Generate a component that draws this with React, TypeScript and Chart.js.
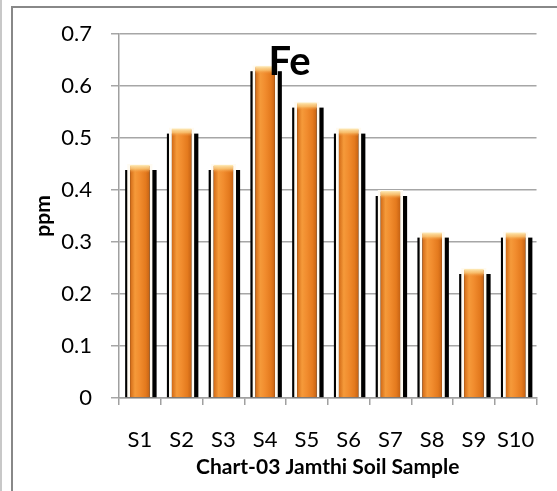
import React, { useEffect, useRef } from 'react';
import { Chart, registerables } from 'chart.js';

Chart.register(...registerables);

const CATEGORIES = ['S1', 'S2', 'S3', 'S4', 'S5', 'S6', 'S7', 'S8', 'S9', 'S10'];
const FE_VALUES = [0.45, 0.52, 0.45, 0.64, 0.57, 0.52, 0.4, 0.32, 0.25, 0.32];
const Y_TICK_LABELS = ['0', '0.1', '0.2', '0.3', '0.4', '0.5', '0.6', '0.7'];
const CHART_TITLE = 'Fe';
const X_TITLE = 'Chart-03 Jamthi Soil Sample';
const Y_TITLE = 'ppm';

const BAR_FRAC = 0.61;
const FONT = 'Lato';

const shadowPlugin = {
  id: 'barShadow',
  beforeDatasetsDraw(chart: any) {
    const ctx = chart.ctx;
    const meta = chart.getDatasetMeta(0);
    ctx.save();
    ctx.fillStyle = '#000000';
    meta.data.forEach((el: any) => {
      const { x, y, base, width } = el.getProps(['x', 'y', 'base', 'width'], true);
      ctx.fillRect(x - width / 2 - 2, y + 6, width + 6, base - y - 6);
    });
    ctx.restore();
  },
  afterDatasetsDraw(chart: any) {
    const ctx = chart.ctx;
    const meta = chart.getDatasetMeta(0);
    ctx.save();
    meta.data.forEach((el: any) => {
      const { x, y, width } = el.getProps(['x', 'y', 'width'], true);
      const inner = width / 2 - 3;
      const g = ctx.createLinearGradient(0, y + 1, 0, y + 9);
      g.addColorStop(0, 'rgba(253,232,180,1)');
      g.addColorStop(0.5, 'rgba(250,200,120,0.8)');
      g.addColorStop(1, 'rgba(240,140,50,0)');
      ctx.fillStyle = g;
      ctx.fillRect(x - inner, y + 1, inner * 2, 8);
    });
    const area = chart.chartArea;
    ctx.fillStyle = '#000000';
    ctx.font = `bold 40px ${FONT}`;
    ctx.textAlign = 'center';
    ctx.textBaseline = 'alphabetic';
    ctx.fillText(CHART_TITLE, area.left + 170.5, area.top + 41);
    ctx.restore();
  },
};

export default function App() {
  const canvasRef = useRef<HTMLCanvasElement | null>(null);

  useEffect(() => {
    if (!canvasRef.current) return;
    const chart = new Chart(canvasRef.current, {
      type: 'bar',
      data: {
        labels: CATEGORIES,
        datasets: [
          {
            label: CHART_TITLE,
            data: FE_VALUES,
            backgroundColor: (c: any) => {
              const ch = c.chart;
              const xs = ch.scales && ch.scales.x;
              if (!xs || c.dataIndex === undefined) return '#EE8628';
              const cx = xs.getPixelForValue(c.dataIndex);
              const half = ((xs.width / CATEGORIES.length) * BAR_FRAC) / 2 - 3;
              if (!isFinite(cx) || !isFinite(half) || half <= 0) return '#EE8628';
              const g = ch.ctx.createLinearGradient(cx - half, 0, cx + half, 0);
              g.addColorStop(0, '#D26A16');
              g.addColorStop(0.25, '#F59A3A');
              g.addColorStop(0.5, '#F18C2E');
              g.addColorStop(0.8, '#E47A1E');
              g.addColorStop(1, '#C66314');
              return g;
            },
            borderColor: '#FFFBF2',
            borderWidth: { top: 2, left: 3, right: 3, bottom: 0 },
            borderSkipped: false,
            barPercentage: BAR_FRAC,
            categoryPercentage: 1,
          },
        ],
      },
      options: {
        responsive: false,
        animation: false,
        devicePixelRatio: 1,
        layout: { padding: { top: 34, right: 12.5, bottom: 0, left: 0 } },
        plugins: {
          legend: { display: false },
          tooltip: { enabled: false },
          title: { display: false },
        },
        scales: {
          x: {
            grid: {
              display: true,
              offset: true,
              drawOnChartArea: false,
              drawTicks: true,
              tickLength: 7,
              color: '#A0A0A0',
              lineWidth: 1.5,
            },
            border: { display: true, color: '#A0A0A0', width: 1.5 },
            ticks: {
              color: '#000000',
              font: { family: FONT, size: 22 },
              padding: 22,
              maxRotation: 0,
              autoSkip: false,
            },
            title: {
              display: true,
              text: X_TITLE,
              color: '#000000',
              font: { family: FONT, size: 21, weight: 'bold' },
              padding: { top: 0, bottom: 11.5 },
            },
            afterFit: (scale: any) => {
              scale.height = 93;
            },
          },
          y: {
            min: 0,
            max: 0.7,
            ticks: {
              stepSize: 0.1,
              color: '#000000',
              font: { family: FONT, size: 22 },
              padding: 19,
              callback: (_v: any, i: number) => Y_TICK_LABELS[i],
            },
            grid: {
              color: '#A6A6A6',
              lineWidth: 1.5,
              drawTicks: true,
              tickLength: 8,
            },
            border: { display: true, color: '#A0A0A0', width: 1.5 },
            title: {
              display: true,
              text: Y_TITLE,
              color: '#000000',
              font: { family: FONT, size: 21, weight: 'bold' },
              padding: { top: 31, bottom: 0 },
            },
            afterFit: (scale: any) => {
              scale.width = 119;
            },
          },
        },
      },
      plugins: [shadowPlugin],
    } as any);
    return () => chart.destroy();
  }, []);

  return (
    <div
      style={{
        position: 'fixed',
        left: 0,
        top: 0,
        width: 557,
        height: 491,
        background: '#ffffff',
        overflow: 'hidden',
      }}
    >
      <div
        style={{
          position: 'absolute',
          left: 0,
          top: 0,
          width: 2,
          height: 491,
          background: '#C8C8C8',
        }}
      />
      <div
        style={{
          position: 'absolute',
          left: 11,
          top: 6,
          width: 600,
          height: 600,
          borderTop: '2px solid #888888',
          borderLeft: '2px solid #888888',
          boxSizing: 'border-box',
        }}
      />
      <canvas
        ref={canvasRef}
        width={557}
        height={491}
        style={{ position: 'absolute', left: 0, top: 0, width: 557, height: 491 }}
      />
    </div>
  );
}
